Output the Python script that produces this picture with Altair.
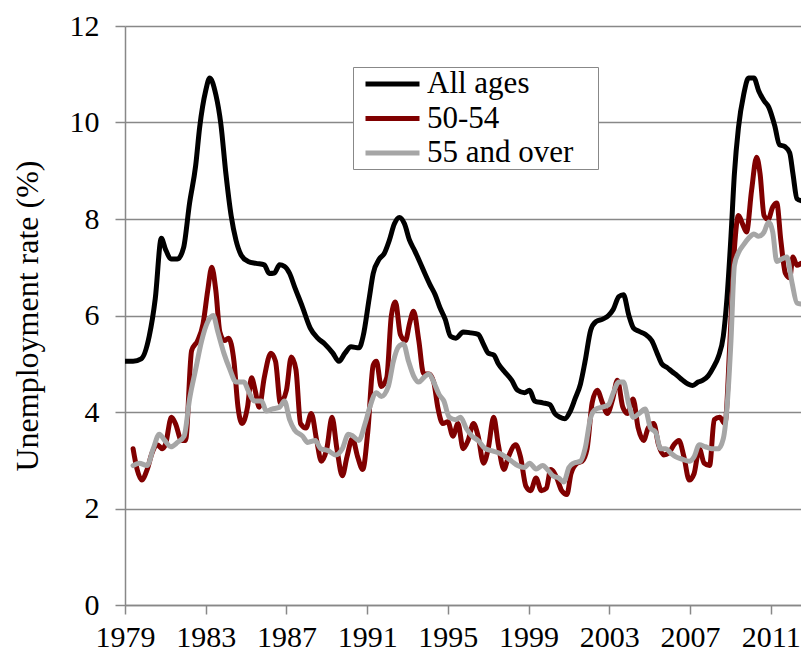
import altair as alt
import pandas as pd

# ---- data ----
all_t = [1979.0, 1979.4, 1979.8, 1980.2, 1980.5, 1980.8, 1981.0, 1981.3, 1981.6, 1981.9, 1982.2, 1982.5,
         1982.7, 1983.0, 1983.2, 1983.5, 1983.75, 1984.0, 1984.26, 1984.5, 1984.76, 1985.1, 1985.5, 1985.9,
         1986.15, 1986.4, 1986.66, 1986.9, 1987.16, 1987.4, 1987.8, 1988.18, 1988.55, 1988.9, 1989.3, 1989.6,
         1989.9, 1990.2, 1990.6, 1990.8, 1991.1, 1991.3, 1991.6, 1991.84, 1992.1, 1992.35, 1992.6, 1992.85,
         1993.1, 1993.36, 1993.6, 1993.86, 1994.1, 1994.37, 1994.6, 1994.87, 1995.13, 1995.4, 1995.76, 1996.14,
         1996.5, 1996.77, 1997.0, 1997.28, 1997.5, 1997.8, 1998.16, 1998.46, 1998.8, 1999.05, 1999.3, 1999.7,
         2000.06, 2000.3, 2000.56, 2000.8, 2001.07, 2001.3, 2001.57, 2001.8, 2002.08, 2002.33, 2002.7, 2002.96,
         2003.2, 2003.47, 2003.7, 2003.97, 2004.2, 2004.48, 2004.78, 2005.1, 2005.37, 2005.6, 2005.87, 2006.1,
         2006.38, 2006.63, 2006.9, 2007.13, 2007.4, 2007.64, 2007.9, 2008.15, 2008.4, 2008.65, 2008.83, 2009.03,
         2009.2, 2009.4, 2009.66, 2009.9, 2010.17, 2010.4, 2010.67, 2010.9, 2011.2, 2011.43, 2011.7, 2011.94,
         2012.1, 2012.3, 2012.5]
all_v = [5.05, 5.05, 5.1, 5.57, 6.35, 7.6, 7.38, 7.17, 7.17, 7.4, 8.33, 9.1,
         9.9, 10.66, 10.92, 10.58, 9.97, 8.94, 8.07, 7.56, 7.25, 7.12, 7.08, 7.05,
         6.87, 6.88, 7.05, 7.02, 6.87, 6.6, 6.17, 5.74, 5.53, 5.41, 5.22, 5.05,
         5.22, 5.35, 5.33, 5.57, 6.35, 6.87, 7.17, 7.28, 7.56, 7.9, 8.03, 7.9,
         7.56, 7.34, 7.12, 6.87, 6.65, 6.43, 6.17, 5.92, 5.57, 5.53, 5.66, 5.64,
         5.61, 5.4, 5.22, 5.18, 5.0, 4.84, 4.66, 4.45, 4.4, 4.45, 4.23, 4.19,
         4.15, 3.97, 3.89, 3.86, 4.02, 4.27, 4.58, 5.05, 5.7, 5.87, 5.93, 6.0,
         6.13, 6.39, 6.43, 6.0, 5.74, 5.67, 5.61, 5.48, 5.22, 5.0, 4.92, 4.84,
         4.75, 4.66, 4.58, 4.55, 4.62, 4.66, 4.75, 4.92, 5.14, 5.57, 6.35, 7.64,
         8.94, 9.89, 10.58, 10.92, 10.92, 10.66, 10.45, 10.32, 9.93, 9.54, 9.5, 9.37,
         8.94, 8.42, 8.38]

a50_t = [1979.4, 1979.6, 1979.83, 1980.1, 1980.34, 1980.6, 1980.85, 1981.0, 1981.3, 1981.5, 1981.8, 1982.0,
         1982.3, 1982.6, 1982.87, 1983.1, 1983.3, 1983.5, 1983.7, 1983.93, 1984.13, 1984.4, 1984.6, 1984.8,
         1985.07, 1985.27, 1985.45, 1985.65, 1985.9, 1986.23, 1986.46, 1986.7, 1987.0, 1987.24, 1987.47, 1987.7,
         1987.97, 1988.23, 1988.5, 1988.73, 1989.0, 1989.26, 1989.5, 1989.77, 1990.0, 1990.27, 1990.53, 1990.78,
         1991.03, 1991.3, 1991.46, 1991.7, 1991.97, 1992.2, 1992.4, 1992.65, 1992.9, 1993.1, 1993.3, 1993.56,
         1993.8, 1994.06, 1994.3, 1994.5, 1994.75, 1995.0, 1995.25, 1995.5, 1995.76, 1996.0, 1996.27, 1996.5,
         1996.77, 1997.0, 1997.27, 1997.5, 1997.78, 1998.0, 1998.36, 1998.6, 1998.87, 1999.1, 1999.37, 1999.63,
         1999.88, 2000.1, 2000.4, 2000.64, 2000.9, 2001.1, 2001.4, 2001.65, 2001.9, 2002.15, 2002.4, 2002.66,
         2002.9, 2003.17, 2003.4, 2003.67, 2003.9, 2004.18, 2004.43, 2004.7, 2004.93, 2005.2, 2005.44, 2005.7,
         2005.95, 2006.2, 2006.45, 2006.7, 2006.96, 2007.2, 2007.46, 2007.7, 2007.97, 2008.2, 2008.47, 2008.73,
         2008.98, 2009.2, 2009.4, 2009.6, 2009.8, 2010.05, 2010.3, 2010.47, 2010.67, 2010.87, 2011.1, 2011.3,
         2011.5, 2011.73, 2011.94, 2012.1, 2012.3, 2012.5]
a50_v = [3.24, 2.81, 2.59, 2.81, 3.15, 3.32, 3.24, 3.32, 3.89, 3.76, 3.41, 3.41,
         5.27, 5.48, 5.83, 6.52, 7.0, 6.52, 5.66, 5.48, 5.53, 5.05, 4.1, 3.76,
         4.1, 4.71, 4.45, 4.1, 4.71, 5.22, 5.05, 4.19, 4.45, 5.14, 4.88, 3.76,
         3.67, 3.97, 3.41, 2.98, 3.24, 3.89, 3.24, 2.68, 3.07, 3.45, 3.07, 2.81,
         3.58, 4.97, 5.05, 4.53, 4.71, 6.0, 6.28, 5.6, 5.48, 5.83, 6.09, 5.48,
         4.79, 4.79, 4.62, 4.1, 3.76, 3.8, 3.5, 3.76, 3.24, 3.41, 3.76, 3.5,
         2.94, 3.24, 3.89, 3.32, 2.81, 3.07, 3.32, 3.07, 2.46, 2.37, 2.63, 2.37,
         2.42, 2.81, 2.63, 2.37, 2.29, 2.72, 2.94, 2.98, 3.24, 4.19, 4.45, 4.19,
         3.97, 4.27, 4.66, 4.1, 3.97, 4.27, 3.67, 3.41, 3.67, 3.76, 3.32, 3.11,
         3.15, 3.32, 3.41, 3.07, 2.59, 2.72, 3.24, 2.94, 2.89, 3.84, 3.89, 3.76,
         5.48, 7.38, 8.07, 7.9, 7.73, 8.59, 9.28, 8.94, 8.07, 7.99, 8.25, 8.33,
         7.56, 6.87, 6.78, 7.21, 7.04, 7.08]

a55_t = [1979.4, 1979.7, 1980.1, 1980.4, 1980.7, 1980.97, 1981.27, 1981.6, 1981.93, 1982.2, 1982.5, 1982.8,
         1983.1, 1983.37, 1983.6, 1983.9, 1984.2, 1984.5, 1984.9, 1985.1, 1985.4, 1985.77, 1986.0, 1986.28,
         1986.66, 1986.9, 1987.16, 1987.4, 1987.8, 1988.05, 1988.43, 1988.7, 1989.06, 1989.44, 1989.77, 1990.07,
         1990.3, 1990.58, 1990.9, 1991.13, 1991.46, 1991.7, 1992.05, 1992.3, 1992.55, 1992.8, 1993.05, 1993.3,
         1993.56, 1993.8, 1994.06, 1994.3, 1994.57, 1994.8, 1995.07, 1995.38, 1995.63, 1995.9, 1996.2, 1996.5,
         1996.85, 1997.15, 1997.53, 1997.86, 1998.16, 1998.46, 1998.8, 1999.05, 1999.37, 1999.7, 1999.93, 2000.2,
         2000.5, 2000.74, 2001.0, 2001.24, 2001.57, 2001.8, 2002.08, 2002.33, 2002.66, 2002.96, 2003.2, 2003.47,
         2003.7, 2003.97, 2004.2, 2004.48, 2004.78, 2005.04, 2005.3, 2005.54, 2005.8, 2006.04, 2006.3, 2006.63,
         2006.96, 2007.2, 2007.46, 2007.76, 2008.07, 2008.4, 2008.65, 2008.85, 2009.03, 2009.2, 2009.4, 2009.66,
         2009.9, 2010.17, 2010.4, 2010.67, 2010.9, 2011.1, 2011.3, 2011.55, 2011.8, 2012.05, 2012.3, 2012.5]
a55_v = [2.89, 2.94, 2.89, 3.24, 3.54, 3.41, 3.28, 3.37, 3.5, 4.27, 4.88, 5.48,
         5.87, 6.0, 5.66, 5.22, 4.88, 4.62, 4.62, 4.45, 4.23, 4.23, 4.02, 4.06,
         4.1, 4.23, 3.84, 3.63, 3.5, 3.37, 3.41, 3.24, 3.2, 3.11, 3.24, 3.54,
         3.5, 3.41, 3.76, 4.1, 4.4, 4.32, 4.53, 5.05, 5.35, 5.41, 5.05, 4.75,
         4.62, 4.71, 4.79, 4.62, 4.36, 4.23, 3.89, 3.84, 3.89, 3.67, 3.5, 3.41,
         3.24, 3.2, 3.15, 3.07, 2.98, 2.89, 2.85, 2.94, 2.82, 2.89, 2.81, 2.68,
         2.63, 2.55, 2.85, 2.94, 2.98, 3.24, 3.89, 4.06, 4.1, 4.15, 4.4, 4.62,
         4.62, 4.15, 3.89, 3.97, 4.06, 3.67, 3.58, 3.24, 3.24, 3.15, 3.07, 3.02,
         2.98, 3.07, 3.32, 3.28, 3.24, 3.24, 3.45, 4.19, 5.48, 7.04, 7.3, 7.47,
         7.6, 7.69, 7.64, 7.73, 7.94, 7.73, 7.12, 7.17, 7.21, 6.69, 6.26, 6.24]

series_names = ["All ages", "50-54", "55 and over"]
series_colors = ["#000000", "#800000", "#A6A6A6"]
x_ticks = list(range(1979, 2012, 4))
y_ticks = [0, 2, 4, 6, 8, 10, 12]

rows = []
for name, ts, vs in zip(series_names, [all_t, a50_t, a55_t], [all_v, a50_v, a55_v]):
    for t, v in zip(ts, vs):
        rows.append({"year": t, "rate": v, "series": name})
df = pd.DataFrame(rows)

FONT = "Liberation Serif"
GRID = "#888888"

chart = alt.Chart(df).mark_line(
    strokeWidth=5, interpolate="monotone", clip=True, strokeJoin="round", strokeCap="round"
).encode(
    x=alt.X("year:Q",
            scale=alt.Scale(domain=[1979, 2012.5], nice=False, zero=False),
            axis=alt.Axis(values=x_ticks, format="d", title=None, grid=False,
                          tickSize=9, tickColor=GRID, tickWidth=1.5,
                          domainColor=GRID, domainWidth=1.5,
                          labelFont=FONT, labelFontSize=30, labelColor="black",
                          labelPadding=8, labelFlush=False, labelOverlap=False)),
    y=alt.Y("rate:Q",
            scale=alt.Scale(domain=[0, 12], nice=False),
            axis=alt.Axis(values=y_ticks, title="Unemployment rate (%)", grid=True,
                          gridColor=GRID, gridWidth=1.5,
                          tickSize=10, tickColor=GRID, tickWidth=1.5,
                          domainColor=GRID, domainWidth=1.5,
                          labelFont=FONT, labelFontSize=30, labelColor="black",
                          labelPadding=16,
                          titleFont=FONT, titleFontSize=32, titleFontWeight="normal",
                          titleColor="black", titlePadding=25)),
    color=alt.Color("series:N",
                    scale=alt.Scale(domain=series_names, range=series_colors),
                    sort=series_names,
                    legend=alt.Legend(title=None, orient="none", legendX=228, legendY=41,
                                      direction="vertical",
                                      fillColor="white", strokeColor=GRID, padding=1,
                                      symbolType="M-2,0H2", symbolSize=729,
                                      symbolStrokeWidth=5, symbolOffset=22.5,
                                      labelFont=FONT, labelFontSize=31, labelColor="black",
                                      labelLimit=400,
                                      labelExpr="datum.label + '\u2800'",
                                      labelOffset=18.5, rowPadding=3.5)),
).properties(
    width=676, height=579,
    autosize=alt.AutoSizeParams(type="none"),
    padding={"left": 117, "top": 18, "right": 0, "bottom": 49},
).configure_view(stroke=None)

chart.save("out.html", embed_options={"renderer": "svg", "actions": False})
